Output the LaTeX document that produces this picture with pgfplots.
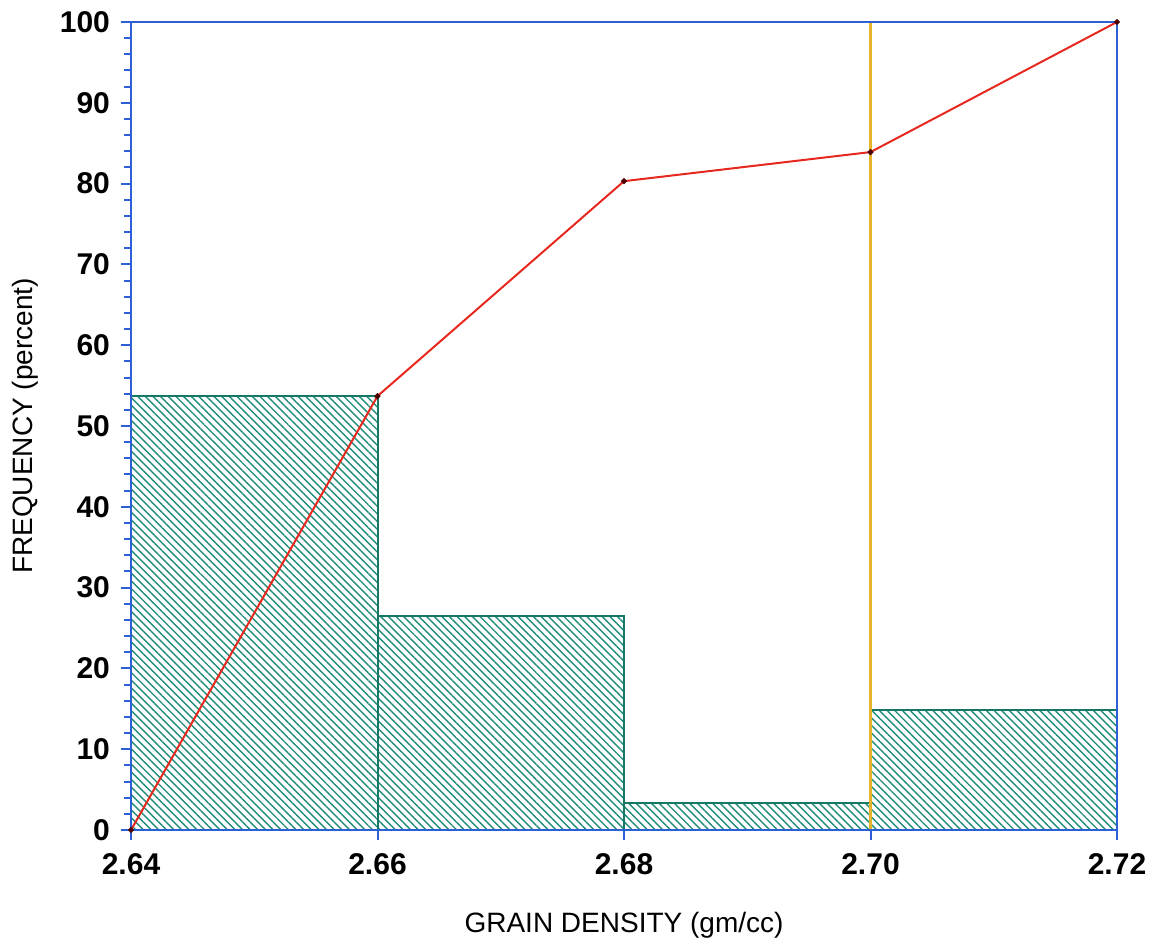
\documentclass[border=0pt]{standalone}
\usepackage{fontspec}
\setmainfont{Liberation Sans}
\usepackage{pgfplots}
\pgfplotsset{compat=1.18}
\usetikzlibrary{patterns.meta}
\definecolor{axblue}{RGB}{45,95,215}
\definecolor{hatch}{RGB}{30,140,120}
\definecolor{hatchedge}{RGB}{20,120,100}
\definecolor{cumred}{RGB}{230,40,30}
\definecolor{vyellow}{RGB}{230,180,40}
\begin{document}
\begin{tikzpicture}
\begin{axis}[
  scale only axis,
  width=493pt, height=404pt,
  xmin=2.64, xmax=2.72, ymin=0, ymax=100,
  xtick={2.64,2.66,2.68,2.70,2.72},
  ytick={0,10,...,100},
  minor y tick num=4,
  xtick pos=left, ytick pos=left,
  tick align=outside,
  major tick length=5pt, minor tick length=3.5pt,
  tick style={axblue, line width=1pt},
  axis line style={axblue, line width=1.1pt},
  axis on top,
  xticklabel style={/pgf/number format/fixed, /pgf/number format/fixed zerofill, /pgf/number format/precision=2, yshift=-3pt},
  yticklabel style={xshift=-2pt},
  /pgf/number format/assume math mode=true,
  ticklabel style={font=\bfseries\fontsize{15}{17}\selectfont},
  xlabel={GRAIN DENSITY (gm/cc)},
  ylabel={FREQUENCY (percent)},
  label style={font=\fontsize{14}{16}\selectfont},
  xlabel style={yshift=-12pt},
  ylabel style={yshift=4pt},
]
\addplot[ybar interval, draw=hatchedge, line width=1pt,
  pattern={Lines[angle=-45,distance=2.7pt,line width=0.7pt]}, pattern color=hatch]
  coordinates {(2.64,53.7)(2.66,26.5)(2.68,3.3)(2.70,14.8)(2.72,14.8)};
\addplot[vyellow, line width=1.1pt] coordinates {(2.70,0)(2.70,100)};
\addplot[cumred, line width=1pt, mark=*, mark size=0.9pt, mark options={fill=black!70!red, draw=black!70!red}]
  coordinates {(2.64,0)(2.66,53.7)(2.68,80.3)(2.70,83.9)(2.72,100)};
\end{axis}
\path ([xshift=-65.5pt,yshift=-58pt]current axis.south west) rectangle ([xshift=20pt,yshift=11pt]current axis.north east);
\end{tikzpicture}
\end{document}
